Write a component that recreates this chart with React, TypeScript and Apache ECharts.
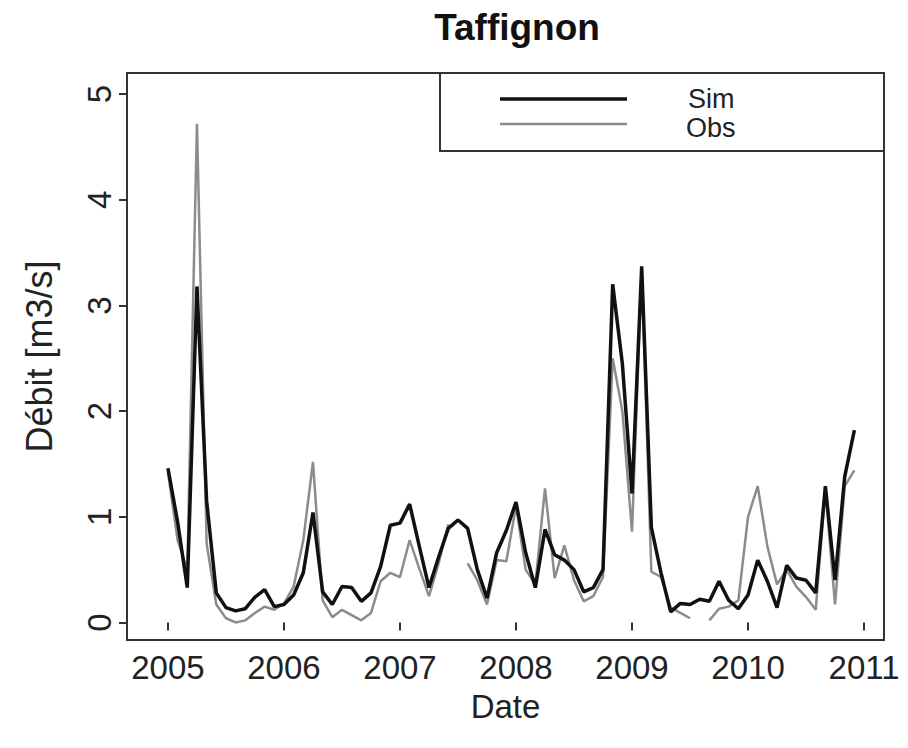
import React, { useEffect, useRef } from "react";
import * as echarts from "echarts";

// Monthly series, January 2005 .. December 2010
const startYear = 2005;
const sim = [
  1.46, 0.95, 0.33, 3.18, 1.15, 0.28, 0.14, 0.11, 0.13, 0.24, 0.31, 0.15,
  0.17, 0.26, 0.47, 1.04, 0.29, 0.17, 0.34, 0.33, 0.20, 0.28, 0.53, 0.92,
  0.94, 1.12, 0.72, 0.33, 0.62, 0.89, 0.97, 0.89, 0.50, 0.23, 0.66, 0.87,
  1.14, 0.66, 0.33, 0.88, 0.64, 0.59, 0.50, 0.29, 0.33, 0.50, 3.20, 2.45,
  1.22, 3.37, 0.90, 0.47, 0.10, 0.18, 0.17, 0.22, 0.20, 0.39, 0.21, 0.13,
  0.26, 0.59, 0.39, 0.14, 0.54, 0.42, 0.40, 0.28, 1.29, 0.40, 1.38, 1.82,
];
const obs: (number | null)[] = [
  1.42, 0.78, 0.50, 4.72, 0.75, 0.17, 0.04, 0.00, 0.02, 0.09, 0.15, 0.12,
  0.18, 0.34, 0.78, 1.52, 0.21, 0.05, 0.12, 0.07, 0.02, 0.09, 0.39, 0.47,
  0.43, 0.78, 0.51, 0.25, 0.56, 0.93, null, 0.56, 0.40, 0.17, 0.59, 0.58,
  1.10, 0.50, 0.36, 1.27, 0.42, 0.73, 0.40, 0.20, 0.25, 0.43, 2.50, 2.00,
  0.86, 3.33, 0.48, 0.43, 0.14, 0.09, 0.04, null, 0.02, 0.13, 0.15, 0.21,
  1.00, 1.29, 0.72, 0.36, 0.50, 0.34, 0.24, 0.12, 1.25, 0.17, 1.29, 1.44,
];
const xTicks = [2005, 2006, 2007, 2008, 2009, 2010, 2011];
const yTicks = [0, 1, 2, 3, 4, 5];

const FONT = "Liberation Sans, Arial, Helvetica, sans-serif";

export default function App() {
  const ref = useRef<HTMLDivElement>(null);
  useEffect(() => {
    if (!ref.current) return;
    const chart = echarts.init(ref.current, undefined, { renderer: "svg" });
    const toX = (i: number) => startYear + i / 12;
    const simData = sim.map((v, i) => [toX(i), v]);
    const obsData = obs.map((v, i) => [toX(i), v === null ? "-" : v]);
    chart.setOption({
      animation: false,
      backgroundColor: "#ffffff",
      title: {
        text: "Taffignon",
        left: 512,
        top: 4,
        textAlign: "center",
        textStyle: { fontFamily: FONT, fontWeight: "bold", fontSize: 37, color: "#111" },
      },
      grid: {
        left: 127,
        top: 73,
        right: 24,
        bottom: 108,
        show: true,
        borderColor: "#333",
        borderWidth: 2,
        backgroundColor: "transparent",
      },
      xAxis: {
        type: "value",
        min: 2004.647,
        max: 2011.172,
        name: "Date",
        nameLocation: "middle",
        nameGap: 50,
        nameTextStyle: { fontFamily: FONT, fontSize: 33, color: "#222" },
        axisLine: { show: false },
        splitLine: { show: false },
        axisTick: {
          show: true,
          length: 8,
          customValues: xTicks,
          lineStyle: { color: "#333", width: 2 },
        },
        axisLabel: {
          customValues: xTicks,
          margin: 11,
          fontFamily: FONT,
          fontSize: 33,
          color: "#222",
          formatter: (v: number) => String(v),
        },
      },
      yAxis: {
        type: "value",
        min: -0.166,
        max: 5.2,
        name: "Débit [m3/s]",
        nameLocation: "middle",
        nameRotate: 90,
        nameGap: 70,
        nameTextStyle: { fontFamily: FONT, fontSize: 36, color: "#222" },
        axisLine: { show: false },
        splitLine: { show: false },
        axisTick: {
          show: true,
          length: 8,
          customValues: yTicks,
          lineStyle: { color: "#333", width: 2 },
        },
        axisLabel: {
          customValues: yTicks,
          rotate: 90,
          margin: 11,
          fontFamily: FONT,
          fontSize: 33,
          color: "#222",
          formatter: (v: number) => String(v),
        },
      },
      graphic: [
        {
          type: "rect",
          shape: { x: 440, y: 73, width: 444, height: 78 },
          style: { fill: "none", stroke: "#333", lineWidth: 2 },
        },
        {
          type: "line",
          shape: { x1: 500, y1: 99, x2: 627, y2: 99 },
          style: { stroke: "#111", lineWidth: 3.5 },
        },
        {
          type: "line",
          shape: { x1: 500, y1: 124, x2: 627, y2: 124 },
          style: { stroke: "#8c8c8c", lineWidth: 2.5 },
        },
        {
          type: "text",
          x: 688,
          y: 99,
          style: { text: "Sim", fontFamily: FONT, fontSize: 27, fill: "#222", verticalAlign: "middle" },
        },
        {
          type: "text",
          x: 686,
          y: 128,
          style: { text: "Obs", fontFamily: FONT, fontSize: 27, fill: "#222", verticalAlign: "middle" },
        },
      ],
      series: [
        {
          name: "Obs",
          type: "line",
          data: obsData,
          showSymbol: false,
          connectNulls: false,
          lineStyle: { color: "#8c8c8c", width: 2.5 },
          z: 2,
        },
        {
          name: "Sim",
          type: "line",
          data: simData,
          showSymbol: false,
          lineStyle: { color: "#111", width: 3.5 },
          z: 3,
        },
      ],
    });
    return () => chart.dispose();
  }, []);
  return (
    <div
      ref={ref}
      style={{ position: "absolute", left: 0, top: 0, width: 908, height: 748 }}
    />
  );
}
